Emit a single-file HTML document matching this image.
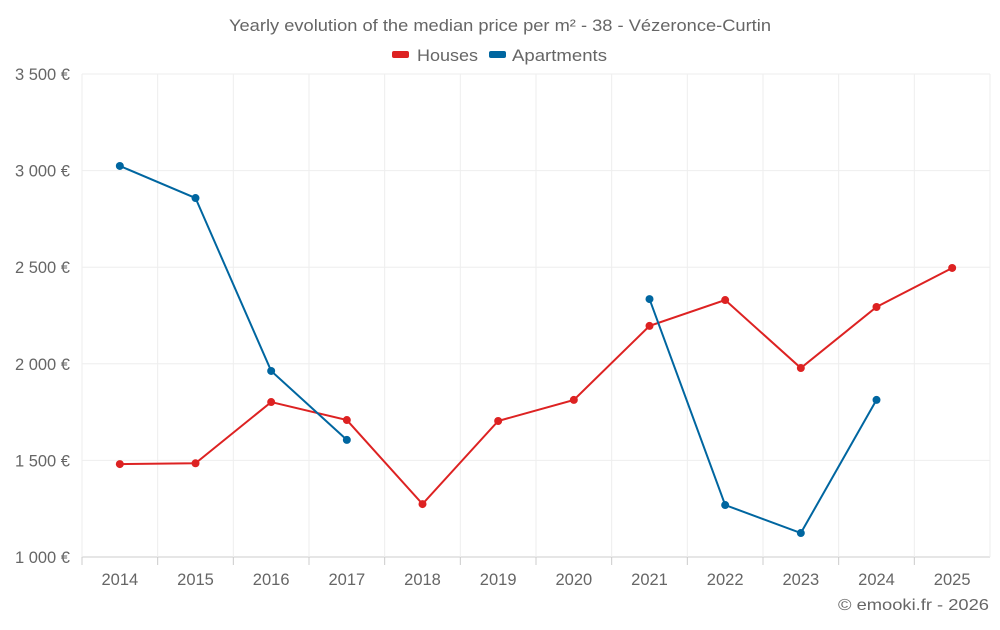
<!DOCTYPE html>
<html><head><meta charset="utf-8"><style>
body{margin:0;background:#fff;font-family:"Liberation Sans",sans-serif;}
svg text{font-family:"Liberation Sans",sans-serif;fill:#666;}
</style></head><body>
<svg id="chart" width="1000" height="625">
<text x="229" y="31" font-size="17" textLength="542" lengthAdjust="spacingAndGlyphs">Yearly evolution of the median price per m² - 38 - Vézeronce-Curtin</text>
<g>
<g><rect x="392" y="51" width="17" height="7" rx="2" fill="#dd2222"/><text x="417" y="61" font-size="17" textLength="61" lengthAdjust="spacingAndGlyphs">Houses</text></g>
<g><rect x="489" y="51" width="17" height="7" rx="2" fill="#0066a0"/><text x="512" y="61" font-size="17" textLength="95" lengthAdjust="spacingAndGlyphs">Apartments</text></g>
</g>
<g id="grid"></g><g id="axes"></g><g id="series"></g>
<text x="838" y="610" font-size="16" textLength="151" lengthAdjust="spacingAndGlyphs">© emooki.fr - 2026</text>
</svg>
<script>
const years=[2014,2015,2016,2017,2018,2019,2020,2021,2022,2023,2024,2025];
const houses=[1481,1485,1802,1709,1274,1704,1813,2196,2330,1978,2294,2496];
const apartments=[3024,2858,1963,1606,null,null,null,2335,1269,1124,1813,null];
const yTicks=[1000,1500,2000,2500,3000,3500];
const yLabels=["1 000 €","1 500 €","2 000 €","2 500 €","3 000 €","3 500 €"];
const L=82,R=990,T=74,B=557,NS="http://www.w3.org/2000/svg";
const bw=(R-L)/years.length;
const x=i=>L+bw*(i+0.5);
const y=v=>B-(v-1000)/2500*(B-T);
function mk(tag,attrs,parent){const e=document.createElementNS(NS,tag);for(const k in attrs)e.setAttribute(k,attrs[k]);document.getElementById(parent).appendChild(e);return e;}
yTicks.forEach((t,i)=>{
 const g=mk('line',{x1:L,x2:R,y1:y(t),y2:y(t),stroke:i==0?'#ccc':'#eee'},'grid');
 
 
 const tx=mk('text',{x:70,y:y(t)+6,'text-anchor':'end','font-size':16.5},'axes');tx.textContent=yLabels[i];
 
 
});
for(let i=0;i<=years.length;i++){
 const v=mk('line',{x1:L+bw*i,x2:L+bw*i,y1:T,y2:B,stroke:'#eee'},'grid');
 
 
}
years.forEach((yr,i)=>{
 const tk=mk('line',{x1:L+bw*i,x2:L+bw*i,y1:B,y2:B+8,stroke:'#ccc'},'axes');
 
 
 const t=mk('text',{x:x(i),y:585,'text-anchor':'middle','font-size':16.5},'axes');t.textContent=yr;
 
 
});
function draw(data,color,name){
 let d='',pen=false;
 data.forEach((v,i)=>{if(v==null){pen=false;return;}d+=(pen?'L':'M')+x(i)+','+y(v)+' ';pen=true;});
 const p=mk('path',{d:d,fill:'none',stroke:color,'stroke-width':2},'series');
 
 
 data.forEach((v,i)=>{if(v==null)return;
  const c=mk('circle',{cx:x(i),cy:y(v),r:4,fill:color},'series');
  
  
 });
}
draw(houses,'#dd2222','houses');
draw(apartments,'#0066a0','apartments');
</script>
</body></html>
